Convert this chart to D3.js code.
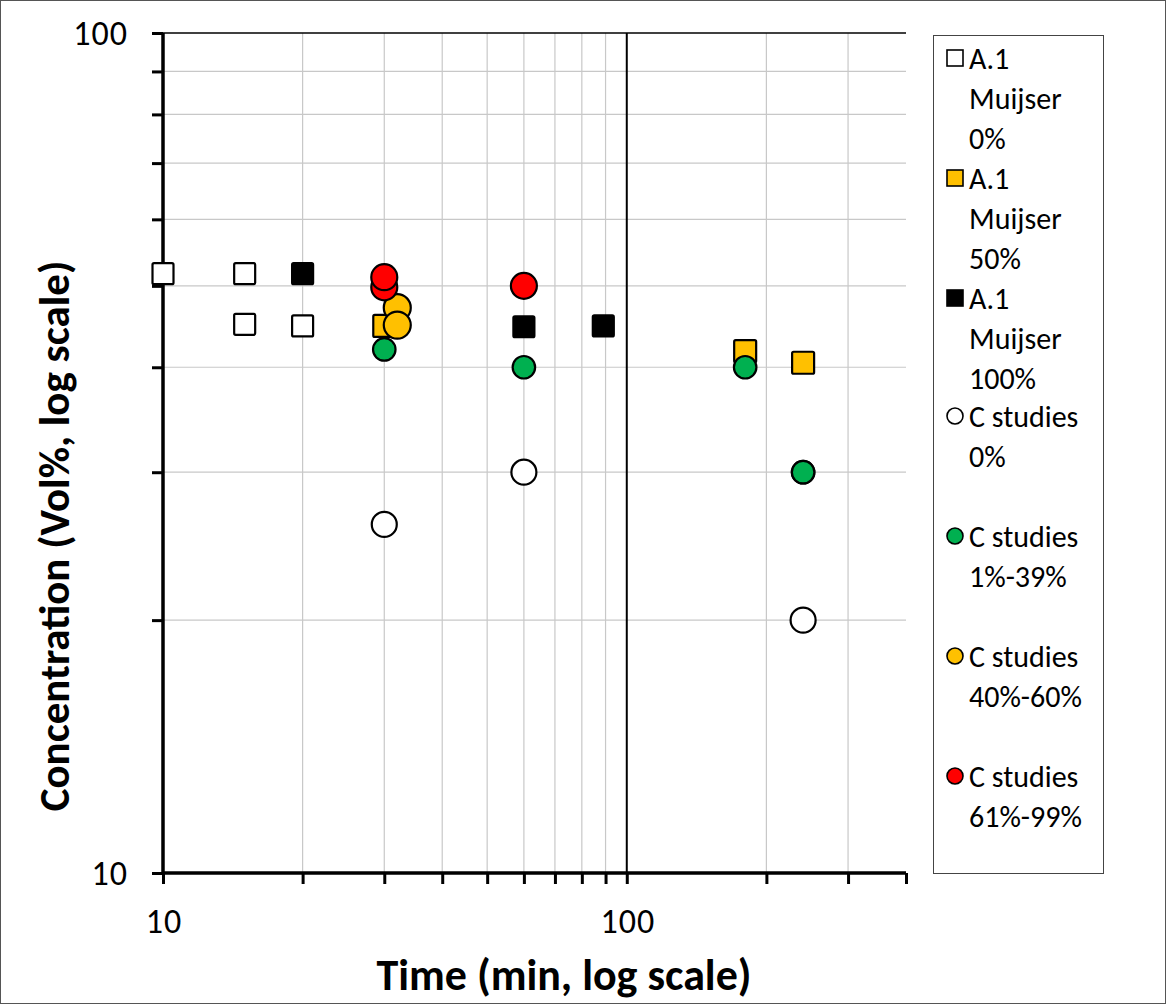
<!DOCTYPE html>
<html><head><meta charset="utf-8">
<script src="https://cdn.jsdelivr.net/npm/d3@7"></script>
<style>body{margin:0;background:#fff}svg{display:block}text{font-family:Carlito,Calibri,Lato,sans-serif;fill:#000}</style>
</head><body>
<script>
const xTickLabels = [10, 100];
const yTickLabels = [10, 100];
const seriesNames = ["A.1 Muijser 0%","A.1 Muijser 50%","A.1 Muijser 100%","C studies 0%","C studies 1%-39%","C studies 40%-60%","C studies 61%-99%"];
const muijser0X = [10, 15, 15, 20];
const muijser0Y = [51.7, 51.7, 45, 44.8];
const muijser50X = [30, 180, 240];
const muijser50Y = [44.8, 41.8, 40.5];
const muijser100X = [20, 60, 89];
const muijser100Y = [51.7, 44.7, 44.8];
const c0X = [30, 60, 240];
const c0Y = [26, 30, 20];
const c1X = [30, 60, 180, 240, 240];
const c1Y = [42, 40, 40, 30, 30];
const c40X = [32, 32];
const c40Y = [47.1, 44.9];
const c61X = [30, 30, 60];
const c61Y = [49.8, 51.2, 50];

const W = 1166, H = 1004;
const L = 163, R = 906, T = 33, B = 873;
const svg = d3.select("body").append("svg").attr("width", W).attr("height", H);
svg.append("rect").attr("x",0.5).attr("y",0.5).attr("width",W-1).attr("height",H-1).attr("fill","#fff").attr("stroke","#555");

const x = d3.scaleLog().domain([10, 400]).range([L, R]);
const y = d3.scaleLog().domain([10, 100]).range([B, T]);

const xMinor = [20,30,40,50,60,70,80,90,200,300];
const yMinor = [20,30,40,50,60,70,80,90];
const g = svg.append("g");
g.selectAll(".gx").data(xMinor).enter().append("line")
  .attr("x1",d=>x(d)).attr("x2",d=>x(d)).attr("y1",T).attr("y2",B).attr("stroke","#c8c8c8").attr("stroke-width",1.2);
g.selectAll(".gy").data(yMinor).enter().append("line")
  .attr("x1",L).attr("x2",R).attr("y1",d=>y(d)).attr("y2",d=>y(d)).attr("stroke","#c8c8c8").attr("stroke-width",1.2);
// major gridlines
g.append("line").attr("x1",x(100)).attr("x2",x(100)).attr("y1",T).attr("y2",B).attr("stroke","#000").attr("stroke-width",2);
g.append("line").attr("x1",L).attr("x2",R).attr("y1",y(100)).attr("y2",y(100)).attr("stroke","#000").attr("stroke-width",1.5);

// axes
const xAxis = d3.axisBottom(x).tickValues([10,20,30,40,50,60,70,80,90,100,200,300,400]).tickSize(11).tickFormat("");
const yAxis = d3.axisLeft(y).tickValues([10,20,30,40,50,60,70,80,90,100]).tickSize(11).tickFormat("");
const ax = svg.append("g").attr("transform",`translate(0,${B})`).call(xAxis);
const ay = svg.append("g").attr("transform",`translate(${L},0)`).call(yAxis);
[ax, ay].forEach(a=>{a.select(".domain").attr("stroke","#000").attr("stroke-width",3.5);
  a.selectAll(".tick line").attr("stroke","#000").attr("stroke-width",3);});
ax.select(".domain").attr("d",`M${L},0H${R}`);
ay.select(".domain").attr("d",`M0,${B}V${T}`);

svg.selectAll(".xl").data(xTickLabels).enter().append("text")
  .attr("x",d=>x(d)+1).attr("y",933).attr("text-anchor","middle").attr("font-size",34).attr("letter-spacing",1).text(d=>d);
svg.selectAll(".yl").data(yTickLabels).enter().append("text")
  .attr("x",128).attr("y",d=>y(d)+12).attr("text-anchor","end").attr("font-size",34).attr("letter-spacing",1).text(d=>d);

svg.append("text").attr("x",564).attr("y",990).attr("text-anchor","middle").attr("font-size",44).attr("font-weight","bold").text("Time (min, log scale)");
svg.append("text").attr("transform","translate(69,536) rotate(-90)").attr("text-anchor","middle").attr("font-size",43).attr("font-weight","bold").text("Concentration (Vol%, log scale)");

// series
const series = [
  {xs:muijser0X, ys:muijser0Y, shape:"sq", fill:"#fff", size:21},
  {xs:muijser50X, ys:muijser50Y, shape:"sq", fill:"#FFC000", size:22},
  {xs:muijser100X, ys:muijser100Y, shape:"sq", fill:"#000", size:21},
  {xs:c0X, ys:c0Y, shape:"ci", fill:"#fff", size:25},
  {xs:c1X, ys:c1Y, shape:"ci", fill:"#00B050", size:22.5},
  {xs:c40X, ys:c40Y, shape:"ci", fill:"#FFC000", size:27},
  {xs:c61X, ys:c61Y, shape:"ci", fill:"#FF0000", size:26}
];
const pts = svg.append("g");
series.forEach(s=>{
  const d = s.xs.map((v,i)=>[v, s.ys[i]]);
  if (s.shape==="sq") {
    pts.selectAll(null).data(d).enter().append("rect")
      .attr("x",p=>x(p[0])-s.size/2).attr("y",p=>y(p[1])-s.size/2)
      .attr("width",s.size).attr("height",s.size).attr("rx",1.5)
      .attr("fill",s.fill).attr("stroke","#000").attr("stroke-width",2.2);
  } else {
    pts.selectAll(null).data(d).enter().append("circle")
      .attr("cx",p=>x(p[0])).attr("cy",p=>y(p[1])).attr("r",s.size/2)
      .attr("fill",s.fill).attr("stroke","#000").attr("stroke-width",2.2);
  }
});

// legend
const lg = svg.append("g");
lg.append("rect").attr("x",933.5).attr("y",35.5).attr("width",170).attr("height",838).attr("fill","#fff").attr("stroke","#444").attr("stroke-width",1);
const legendLines = [["A.1","Muijser","0%"],["A.1","Muijser","50%"],["A.1","Muijser","100%"],["C studies","0%"],["C studies","1%-39%"],["C studies","40%-60%"],["C studies","61%-99%"]];
const starts = [58,178,298,416,536,656,776];
series.forEach((s,i)=>{
  const cy = starts[i];
  if (s.shape==="sq") lg.append("rect").attr("x",947).attr("y",cy-8).attr("width",16).attr("height",16).attr("fill",s.fill).attr("stroke","#000").attr("stroke-width",1.6);
  else lg.append("circle").attr("cx",955).attr("cy",cy).attr("r",8).attr("fill",s.fill).attr("stroke","#000").attr("stroke-width",1.6);
  legendLines[i].forEach((t,j)=>{
    lg.append("text").attr("x",969).attr("y",cy+10.5+j*40).attr("font-size",30).text(t);
  });
});
</script>
</body></html>
